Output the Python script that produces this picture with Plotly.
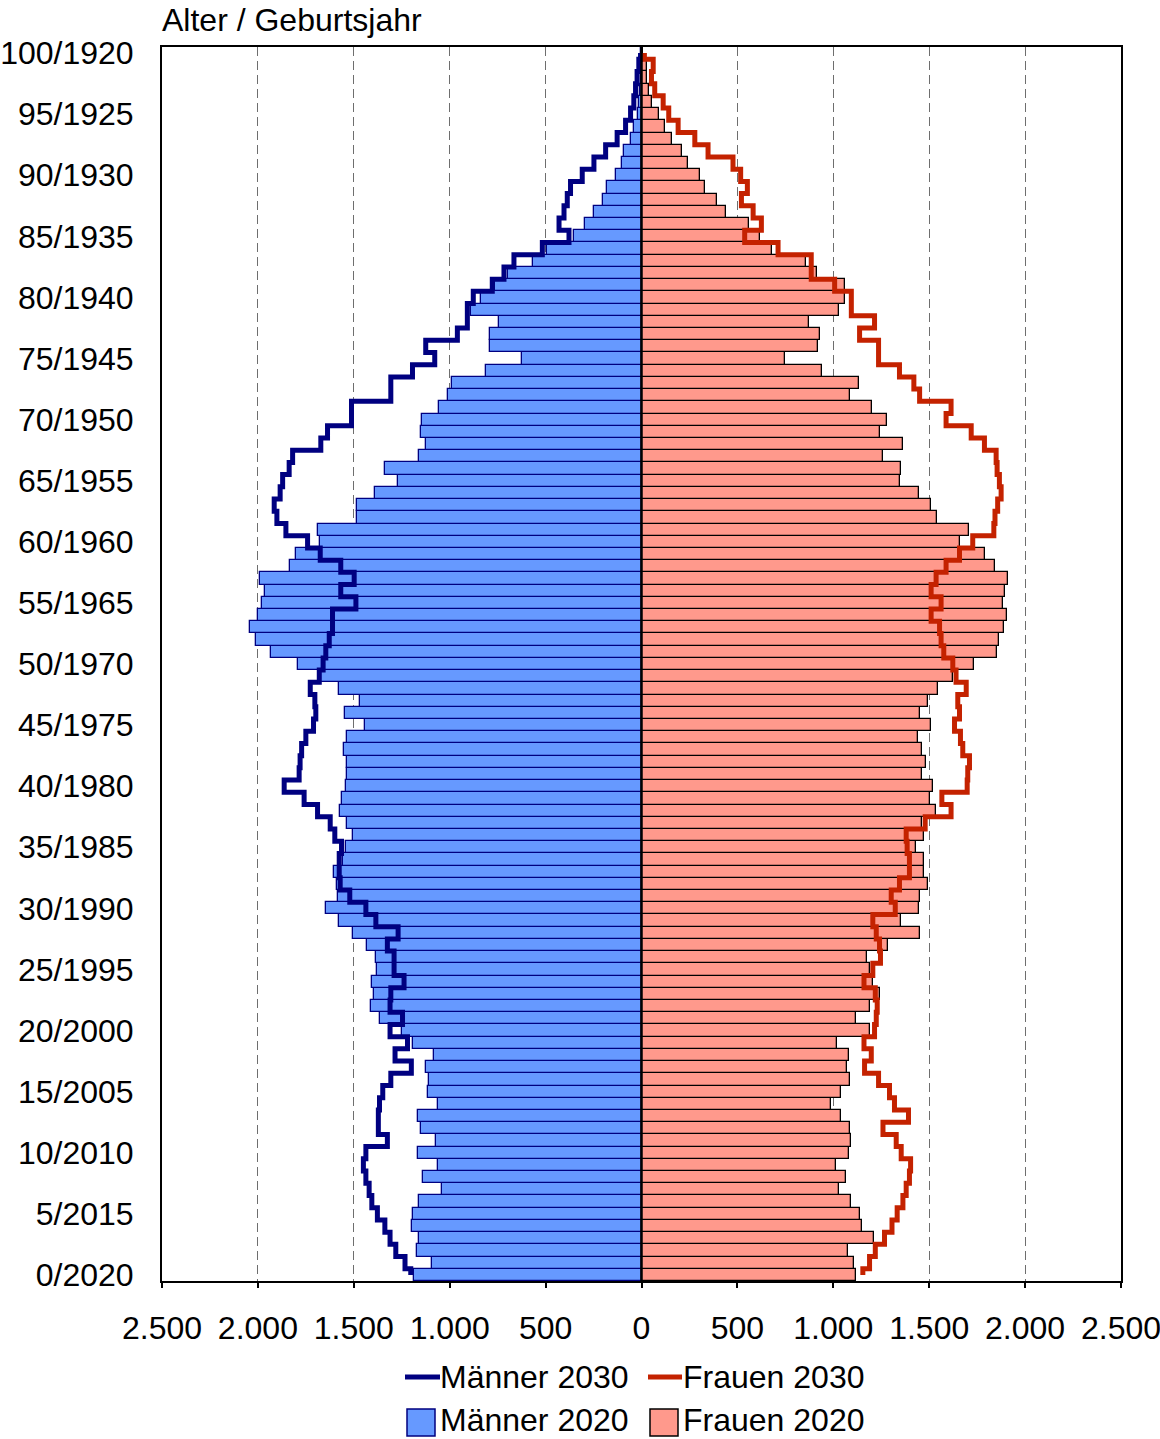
import plotly.graph_objects as go

# Alter 0..100 (Geburtsjahrgang 2020..1920), Werte in Tausend
ages = list(range(101))

maenner_2020 = [
    1186, 1094, 1168, 1158, 1198, 1191, 1158, 1038, 1141, 1059,
    1163, 1071, 1148, 1163, 1061, 1113, 1106, 1121, 1082, 1189,
    1250, 1364, 1408, 1397, 1403, 1377, 1385, 1432, 1502, 1576,
    1646, 1580, 1588, 1602, 1554, 1542, 1505, 1536, 1573, 1559,
    1542, 1533, 1536, 1550, 1533, 1443, 1545, 1467, 1576, 1675,
    1790, 1932, 2010, 2040, 2002, 1979, 1963, 1988, 1833, 1802,
    1677, 1689, 1484, 1484, 1389, 1267, 1338, 1160, 1125, 1148,
    1146, 1055, 1007, 986, 812, 621, 792, 792, 743, 891,
    838, 764, 694, 566, 491, 352, 292, 248, 200, 179,
    135, 101, 92, 57, 40, 20, 12, 8, 5, 3,
    2,
]

frauen_2020 = [
    1120, 1106, 1076, 1212, 1151, 1137, 1094, 1028, 1068, 1016,
    1080, 1090, 1085, 1038, 990, 1042, 1085, 1073, 1082, 1021,
    1189, 1120, 1189, 1245, 1207, 1189, 1177, 1285, 1450, 1351,
    1446, 1450, 1493, 1472, 1472, 1432, 1472, 1462, 1533, 1505,
    1519, 1463, 1481, 1463, 1441, 1510, 1453, 1496, 1545, 1623,
    1736, 1854, 1863, 1892, 1906, 1884, 1897, 1910, 1845, 1792,
    1663, 1706, 1540, 1510, 1446, 1349, 1354, 1259, 1363, 1241,
    1281, 1203, 1085, 1132, 943, 750, 920, 932, 871, 1029,
    1062, 1062, 917, 856, 682, 620, 561, 443, 396, 330,
    306, 243, 212, 160, 125, 90, 56, 40, 31, 31,
    10,
]

maenner_2030 = [
    1203, 1233, 1281, 1311, 1338, 1377, 1406, 1420, 1437, 1450,
    1437, 1325, 1372, 1372, 1366, 1349, 1307, 1200, 1285, 1220,
    1311, 1246, 1311, 1307, 1238, 1290, 1290, 1325, 1269, 1385,
    1437, 1521, 1571, 1576, 1576, 1564, 1599, 1623, 1689, 1759,
    1863, 1785, 1780, 1772, 1750, 1710, 1698, 1703, 1727, 1680,
    1660, 1646, 1628, 1611, 1611, 1489, 1568, 1498, 1568, 1675,
    1741, 1854, 1901, 1915, 1884, 1871, 1837, 1819, 1672, 1637,
    1512, 1512, 1307, 1307, 1194, 1078, 1125, 960, 908, 908,
    877, 778, 717, 665, 517, 378, 430, 404, 387, 370,
    309, 248, 187, 127, 83, 57, 40, 31, 23, 14,
    5,
]

frauen_2030 = [
    1154, 1189, 1219, 1267, 1306, 1333, 1363, 1380, 1397, 1403,
    1354, 1328, 1259, 1392, 1319, 1293, 1236, 1163, 1198, 1160,
    1215, 1224, 1229, 1219, 1160, 1206, 1246, 1241, 1224, 1206,
    1323, 1302, 1345, 1397, 1397, 1385, 1380, 1479, 1614, 1566,
    1698, 1701, 1710, 1675, 1663, 1632, 1658, 1649, 1693, 1640,
    1623, 1576, 1562, 1554, 1510, 1562, 1510, 1536, 1588, 1658,
    1727, 1837, 1843, 1857, 1875, 1866, 1854, 1849, 1788, 1719,
    1588, 1614, 1450, 1420, 1345, 1236, 1236, 1137, 1215, 1094,
    1094, 1007, 885, 885, 712, 538, 625, 582, 521, 552,
    517, 477, 347, 278, 191, 142, 113, 69, 52, 61,
    15,
]

age_ticks = [0, 5, 10, 15, 20, 25, 30, 35, 40, 45, 50,
             55, 60, 65, 70, 75, 80, 85, 90, 95, 100]
age_tick_labels = ["0/2020", "5/2015", "10/2010", "15/2005", "20/2000",
                   "25/1995", "30/1990", "35/1985", "40/1980", "45/1975",
                   "50/1970", "55/1965", "60/1960", "65/1955", "70/1950",
                   "75/1945", "80/1940", "85/1935", "90/1930", "95/1925",
                   "100/1920"]

value_ticks = [-2500, -2000, -1500, -1000, -500, 0, 500, 1000, 1500, 2000, 2500]
value_tick_labels = ["2.500", "2.000", "1.500", "1.000", "500", "0",
                     "500", "1.000", "1.500", "2.000", "2.500"]

series_names = ["Männer 2030", "Frauen 2030", "Männer 2020", "Frauen 2020"]

# Farben
BLUE_FILL = "#6699FF"
NAVY = "#000080"
SALMON_FILL = "#FF998C"
RED_LINE = "#C42200"

FONT = "Liberation Sans, Arial, sans-serif"

W, H = 1160, 1439
L, R, T, B = 162, 39, 47, 158
PW, PH = W - L - R, H - T - B


def px_x(px):
    return (px - L) / PW


def px_y(py):
    return (H - B - py) / PH


fig = go.Figure()

fig.add_trace(go.Bar(
    y=ages, x=[-v for v in maenner_2020], orientation="h", width=1,
    marker=dict(color=BLUE_FILL, line=dict(color=NAVY, width=1.3)),
    name=series_names[2],
))
fig.add_trace(go.Bar(
    y=ages, x=frauen_2020, orientation="h", width=1,
    marker=dict(color=SALMON_FILL, line=dict(color="black", width=1.3)),
    name=series_names[3],
))
fig.add_trace(go.Scatter(
    y=ages, x=[-v for v in maenner_2030], mode="lines",
    line=dict(color=NAVY, width=5, shape="vhv"),
    name=series_names[0],
))
fig.add_trace(go.Scatter(
    y=ages, x=frauen_2030, mode="lines",
    line=dict(color=RED_LINE, width=5, shape="vhv"),
    name=series_names[1],
))

fig.update_layout(
    width=W, height=H,
    margin=dict(l=L, r=R, t=T, b=B, pad=0, autoexpand=False),
    plot_bgcolor="white", paper_bgcolor="white",
    font=dict(family=FONT, size=32, color="black"),
    barmode="overlay", bargap=0,
    showlegend=False,
)

fig.update_xaxes(
    range=[-2500, 2500], automargin=False,
    tickvals=value_ticks, ticktext=value_tick_labels,
    ticklabeloverflow="allow",
    showgrid=True, gridcolor="#6e6e6e", gridwidth=1.3, griddash="9px,5px",
    zeroline=False,
    showline=True, mirror=True, linecolor="black", linewidth=2,
    ticks="outside", ticklen=5, tickwidth=1.5, tickcolor="black",
    ticklabelstandoff=13,
)
fig.update_yaxes(
    range=[-0.5, 100.5], automargin=False,
    tickvals=age_ticks, ticktext=age_tick_labels,
    ticklabeloverflow="allow",
    showgrid=False, zeroline=False,
    showline=True, mirror=True, linecolor="black", linewidth=2,
    ticks="outside", ticklen=20, tickcolor="rgba(0,0,0,0)",
)

# Mittelachse
fig.add_shape(type="line", xref="x", yref="y", x0=0, x1=0, y0=-0.5, y1=100.5,
              line=dict(color="black", width=2.5), layer="above")

# Achsentitel oben links
fig.add_annotation(text="Alter / Geburtsjahr", xref="paper", yref="paper",
                   x=px_x(161), y=px_y(20), xanchor="left", yanchor="middle",
                   showarrow=False, font=dict(size=32), borderpad=0)

# Legende (zwei Zeilen)
row1, row2 = 1377, 1421
fig.add_shape(type="line", xref="paper", yref="paper",
              x0=px_x(405), x1=px_x(440), y0=px_y(row1), y1=px_y(row1),
              line=dict(color=NAVY, width=5))
fig.add_shape(type="line", xref="paper", yref="paper",
              x0=px_x(648), x1=px_x(682), y0=px_y(row1), y1=px_y(row1),
              line=dict(color=RED_LINE, width=5))
fig.add_shape(type="rect", xref="paper", yref="paper",
              x0=px_x(407), x1=px_x(435), y0=px_y(row2 - 12), y1=px_y(row2 + 15),
              fillcolor=BLUE_FILL, line=dict(color=NAVY, width=1.5))
fig.add_shape(type="rect", xref="paper", yref="paper",
              x0=px_x(650), x1=px_x(678), y0=px_y(row2 - 12), y1=px_y(row2 + 15),
              fillcolor=SALMON_FILL, line=dict(color="black", width=1.5))

for name, px, py in [(series_names[0], 439, row1), (series_names[1], 682, row1),
                     (series_names[2], 439, row2 - 1), (series_names[3], 682, row2 - 1)]:
    fig.add_annotation(text=name, xref="paper", yref="paper",
                       x=px_x(px), y=px_y(py), xanchor="left", yanchor="middle",
                       showarrow=False, font=dict(size=32), borderpad=0)

fig.write_html("out.html")
